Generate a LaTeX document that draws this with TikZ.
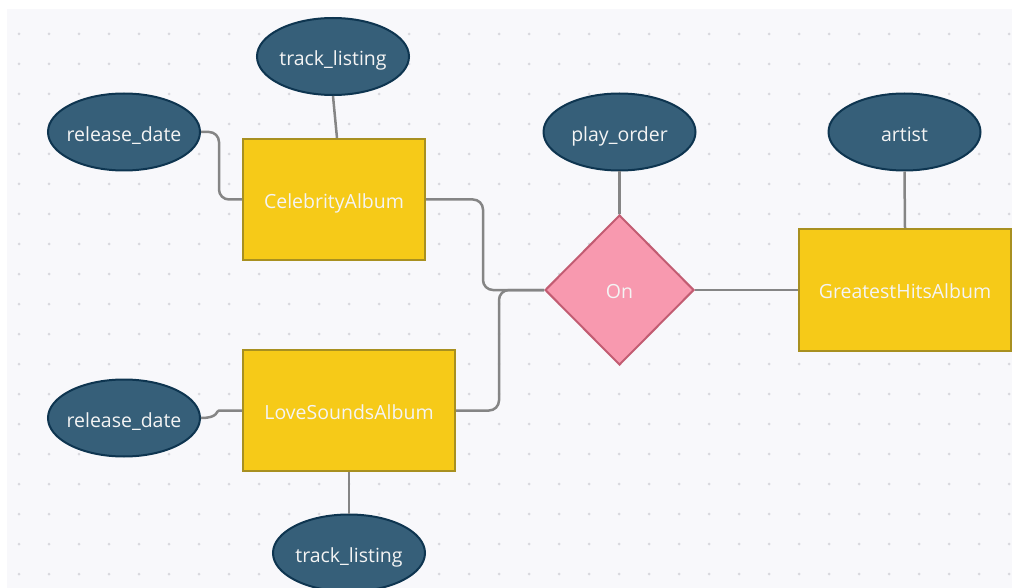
\documentclass[tikz,border=0pt]{standalone}
\usepackage{fontspec}
\setmainfont{Open Sans}
\usetikzlibrary{shapes.geometric,calc}
\definecolor{bgc}{HTML}{F8F8FB}
\definecolor{dotc}{HTML}{D8D8DE}
\definecolor{attrfill}{HTML}{365F79}
\definecolor{attrline}{HTML}{0E3550}
\definecolor{entfill}{HTML}{F6CA18}
\definecolor{entline}{HTML}{A89020}
\definecolor{relfill}{HTML}{F899AF}
\definecolor{relline}{HTML}{C25C72}
\definecolor{connc}{HTML}{858585}
\definecolor{txtc}{HTML}{F4F4F4}
\newcommand{\zw}[1]{\makebox[0pt][c]{#1}}
\tikzset{
  lbl/.style={text=txtc, font=\fontsize{19.5}{22}\selectfont, text depth=0pt},
  attr/.style={ellipse, draw=attrline, fill=attrfill, line width=2pt, minimum width=152pt, minimum height=77pt, inner sep=0pt, lbl, text height=19pt},
  ent/.style={rectangle, draw=entline, fill=entfill, line width=2pt, inner sep=0pt, lbl, text height=17.6pt},
  rel/.style={diamond, draw=relline, fill=relfill, line width=2pt, minimum width=149pt, minimum height=150pt, inner sep=0pt, lbl, text height=17.6pt},
  conn/.style={draw=connc, line width=2.5pt, rounded corners=10pt},
}
\begin{document}
\begin{tikzpicture}[x=1pt,y=-1pt]
\useasboundingbox (0,0) rectangle (1012,588);
\fill[white] (0,0) rectangle (1012,588);
\fill[bgc] (7,9) rectangle (1012,588);
\foreach \i in {0,...,33}{
  \foreach \j in {0,...,18}{
    \fill[dotc] (19+30*\i,34+30*\j) circle (1.5pt);
  }
}
\node[attr] (tl1) at (333,56.5) {\zw{track\_listing}};
\node[attr] (rd1) at (124,132) {\zw{release\_date}};
\node[ent, minimum width=182pt, minimum height=121pt] (cel) at (334,199.5) {CelebrityAlbum};
\node[attr] (po) at (619.5,132) {\zw{play\_order}};
\node[attr] (art) at (904.5,132) {\zw{artist}};
\node[rel] (on) at (619.5,290) {On};
\node[ent, minimum width=212pt, minimum height=122pt] (gh) at (905,290) {GreatestHitsAlbum};
\node[ent, minimum width=212pt, minimum height=121pt] (love) at (349,410.5) {LoveSoundsAlbum};
\node[attr] (rd2) at (124,418) {\zw{release\_date}};
\node[attr] (tl2) at (349,553) {\zw{track\_listing}};
\draw[conn] (rd1.east) -| ([xshift=-23pt]cel.west) -- (cel.west);
\draw[conn] (tl1.south) -- ([xshift=3pt]cel.north);
\draw[conn] (cel.east) -| ([xshift=-61pt]on.west) -- (on.west);
\draw[conn] (love.east) -| ([xshift=-45pt]on.west) -- (on.west);
\draw[conn] (rd2.east) .. controls ++(18,0) and ([xshift=-26pt]love.west) .. ([xshift=-13pt]love.west) -- (love.west);
\draw[conn] (love.south) -- (tl2.north);
\draw[conn] (po.south) -- (on.north);
\draw[conn] (art.south) -- (gh.north);
\draw[conn] (on.east) -- (gh.west);
\end{tikzpicture}
\end{document}
